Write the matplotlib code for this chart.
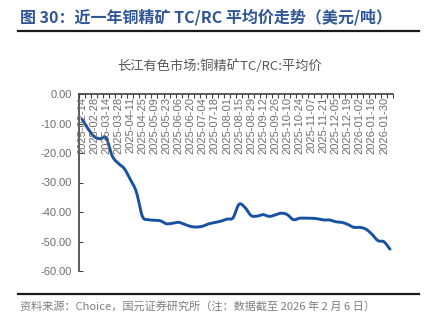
import matplotlib
matplotlib.use("Agg")
import matplotlib.pyplot as plt
from matplotlib.lines import Line2D
import numpy as np
import pandas as pd

plt.rcParams['font.family'] = ['Liberation Sans', 'Noto Sans CJK SC', 'DejaVu Sans']

# Weekly average TC/RC for copper concentrate (USD/t)
dates = pd.date_range("2025-02-14", "2026-02-06", freq="7D")
values = [
    -8.5, -11.8, -14.4, -15.2, -14.9, -21.0, -23.5, -25.3, -29.0, -33.2,
    -41.5, -42.6, -42.8, -43.0, -44.0, -43.8, -43.5, -44.2, -44.9, -45.1,
    -44.8, -44.0, -43.6, -43.1, -42.4, -42.0, -37.4, -38.5, -41.2, -41.4,
    -40.9, -41.5, -41.0, -40.4, -40.9, -42.6, -42.1, -42.1, -42.1, -42.3,
    -42.7, -42.7, -43.3, -43.5, -44.2, -45.2, -45.2, -45.8, -47.5, -49.7,
    -50.1, -52.6,
]
tick_labels = [d.strftime("%Y-%m-%d") for d in dates]
y_ticks = [0, -10, -20, -30, -40, -50, -60]

title = "图 30：近一年铜精矿 TC/RC 平均价走势（美元/吨）"
chart_title = "长江有色市场:铜精矿TC/RC:平均价"
source = "资料来源：Choice，国元证券研究所（注：数据截至 2026 年 2 月 6 日）"

W, H = 431, 330
fig = plt.figure(figsize=(W / 100, H / 100), dpi=100)

# Plot area in pixel coordinates
left, right, top, bottom = 79, 393, 94, 271
ax = fig.add_axes([left / W, 1 - bottom / H, (right - left) / W, (bottom - top) / H])

x = np.arange(len(values))
# smooth the weekly series for display (Catmull-Rom style spline)
def smooth(xs, ys, n=12):
    xs = np.asarray(xs, float)
    ys = np.asarray(ys, float)
    px = np.concatenate([[2 * xs[0] - xs[1]], xs, [2 * xs[-1] - xs[-2]]])
    py = np.concatenate([[2 * ys[0] - ys[1]], ys, [2 * ys[-1] - ys[-2]]])
    out_x, out_y = [], []
    for i in range(1, len(px) - 2):
        t = np.linspace(0, 1, n, endpoint=False)
        for arr, out in ((px, out_x), (py, out_y)):
            p0, p1, p2, p3 = arr[i - 1], arr[i], arr[i + 1], arr[i + 2]
            out.extend(0.5 * ((2 * p1) + (-p0 + p2) * t
                              + (2 * p0 - 5 * p1 + 4 * p2 - p3) * t ** 2
                              + (-p0 + 3 * p1 - 3 * p2 + p3) * t ** 3))
    out_x.append(xs[-1])
    out_y.append(ys[-1])
    return np.array(out_x), np.array(out_y)

sx, sy = smooth(x, values)
ax.plot(sx, sy, color="#1751A3", lw=2.1, solid_capstyle="round", zorder=3)

ax.set_xlim(-0.5, len(values) - 0.5)
ax.set_ylim(-60, 0)

for s in ("right", "bottom"):
    ax.spines[s].set_visible(False)
ax.spines["left"].set_color("#404040")
ax.spines["top"].set_color("#404040")
ax.spines["left"].set_linewidth(1.2)
ax.spines["top"].set_linewidth(1.2)

ax.set_yticks(y_ticks)
ax.set_yticklabels([f"{v:.2f}" for v in y_ticks], fontsize=8, color="#6E6E6E")
ax.tick_params(axis="y", direction="in", length=3, color="#404040", pad=5)

# category boundaries as tick marks on the top axis
ax.xaxis.set_ticks_position("top")
ax.set_xticks(np.arange(len(values) + 1) - 0.5)
ax.set_xticklabels([])
ax.tick_params(axis="x", direction="in", length=3, color="#404040", width=0.8)

for i in range(0, len(values) - 1, 2):
    ax.text(i, -1.0, tick_labels[i], rotation=90, ha="center", va="top",
            fontsize=8, color="#6E6E6E")

fig.text(20 / W, 1 - 17 / H, title, fontsize=11.5, fontweight="bold",
         color="#2F5597", ha="left", va="center",
         family=['Noto Sans CJK SC', 'DejaVu Sans'])
fig.add_artist(Line2D([18 / W, 419 / W], [1 - 31 / H, 1 - 31 / H],
                      color="#1A1A1A", lw=1.6))
fig.text(220 / W, 1 - 66 / H, chart_title, fontsize=9.5, color="#595959",
         ha="center", va="center", family=['Noto Sans CJK SC', 'DejaVu Sans'])
fig.add_artist(Line2D([18 / W, 419 / W], [1 - 294 / H, 1 - 294 / H],
                      color="#1A1A1A", lw=1.6))
fig.text(20 / W, 1 - 307 / H, source, fontsize=8, color="#7F7F7F",
         ha="left", va="center", family=['Noto Sans CJK SC', 'DejaVu Sans'])

fig.savefig("out.png", dpi=100)
